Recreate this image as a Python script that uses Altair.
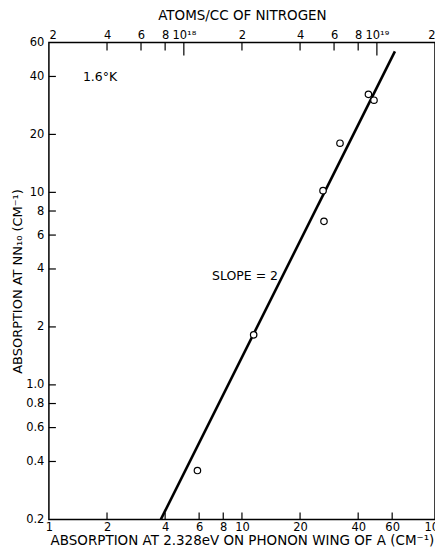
import altair as alt
import pandas as pd

# ---- data ----
x_abs = [5.88, 11.5, 26.3, 26.6, 32.2, 45.2, 48.3]          # absorption at 2.328 eV (cm^-1)
y_nn = [0.359, 1.82, 10.2, 7.07, 18.0, 32.3, 30.1]          # absorption at NN10 (cm^-1)
line_x = [3.8, 62.0]                                          # slope = 2 fit line
line_y = [0.2, 54.0]

bottom_label_vals = [1, 2, 4, 6, 8, 10, 20, 40, 60, 100]
bottom_tick_vals = [2, 4, 6, 8, 10, 20, 40, 60]
left_label_vals = [0.2, 0.4, 0.6, 0.8, 1, 2, 4, 6, 8, 10, 20, 40, 60]
left_tick_vals = [0.4, 0.6, 0.8, 1, 2, 4, 6, 8, 10, 20, 40]
top_label_vals = [2e17, 4e17, 6e17, 8e17, 1e18, 2e18, 4e18, 6e18, 8e18, 1e19, 2e19]
top_labels = ["2", "4", "6", "8", "10¹⁸", "2", "4", "6", "8", "10¹⁹", "2"]
top_minor_vals = [4e17, 6e17, 8e17, 2e18, 4e18, 6e18, 8e18]
top_major_vals = [1e18, 1e19]

notes = ["SLOPE = 2", "1.6°K"]
note_x = [7.0, 1.5]
note_y = [3.68, 39.6]

W, H = 387, 478
FONT = "DejaVu Sans"

xs = alt.Scale(type="log", domain=[1, 100], nice=False)
ys = alt.Scale(type="log", domain=[0.2, 60], nice=False)
ts = alt.Scale(type="log", domain=[2e17, 2e19], nice=False)

x_axis = alt.Axis(values=bottom_label_vals, format="d", ticks=False, domain=False, grid=False,
                  labelPadding=2, labelFlush=False,
                  title="ABSORPTION AT 2.328eV ON PHONON WING OF A  (CM⁻¹)", titlePadding=1)
y_axis = alt.Axis(values=left_label_vals, ticks=False, domain=False, grid=False,
                  labelExpr="datum.value < 1.5 ? format(datum.value, '.1f') : format(datum.value, 'd')",
                  labelPadding=5, labelFlush=False,
                  title="ABSORPTION AT NN₁₀ (CM⁻¹)", titlePadding=1, titleFontSize=13)

expr = "''"
for v, lab in reversed(list(zip(top_label_vals, top_labels))):
    expr = f"abs(datum.value/{v:g} - 1) < 0.001 ? '{lab}' : {expr}"
t_axis = alt.Axis(orient="top", values=top_label_vals, labelExpr=expr, ticks=False, domain=False,
                  grid=False, labelPadding=2, labelFlush=True,
                  title="ATOMS/CC OF NITROGEN", titlePadding=7)


def X(field):
    return alt.X(field, type="quantitative", scale=xs, axis=x_axis)


def Y(field):
    return alt.Y(field, type="quantitative", scale=ys, axis=y_axis)


pts = pd.DataFrame({"x": x_abs, "y": y_nn})
ln = pd.DataFrame({"x": line_x, "y": line_y})
bt = pd.DataFrame({"x": bottom_tick_vals})
lt = pd.DataFrame({"y": left_tick_vals})
nt = pd.DataFrame({"x": note_x, "y": note_y, "t": notes})

line = alt.Chart(ln).mark_line(color="black", strokeWidth=2.6).encode(x=X("x"), y=Y("y"))
points = alt.Chart(pts).mark_point(shape="circle", filled=True, fill="white", stroke="black",
                                   strokeWidth=1.2, size=42, opacity=1).encode(x=X("x"), y=Y("y"))
bticks = alt.Chart(bt).mark_rule(color="black", strokeWidth=1.2).encode(
    x=X("x"), y=alt.value(H), y2=alt.value(H - 7))
lticks = alt.Chart(lt).mark_rule(color="black", strokeWidth=1.2).encode(
    y=Y("y"), x=alt.value(0), x2=alt.value(7))
texts = alt.Chart(nt).mark_text(align="left", baseline="middle", font=FONT, fontSize=12.5,
                                color="black").encode(x=X("x"), y=Y("y"), text="t:N")

main = alt.layer(line, points, bticks, lticks, texts)

tmin = alt.Chart(pd.DataFrame({"a": top_minor_vals})).mark_rule(color="black", strokeWidth=1.2).encode(
    x=alt.X("a:Q", scale=ts, axis=t_axis), y=alt.value(0), y2=alt.value(8))
tmaj = alt.Chart(pd.DataFrame({"a": top_major_vals})).mark_rule(color="black", strokeWidth=1.2).encode(
    x=alt.X("a:Q", scale=ts, axis=t_axis), y=alt.value(0), y2=alt.value(13))
top = alt.layer(tmin, tmaj)

chart = alt.layer(main, top).resolve_scale(x="independent").properties(
    width=W, height=H,
    padding={"left": 41, "top": 34, "right": 0, "bottom": 30},
    autosize=alt.AutoSizeParams(type="none"),
).configure_view(stroke="black", strokeWidth=1.5).configure_axis(
    labelFont=FONT, titleFont=FONT, labelFontSize=11.5, titleFontSize=13.5,
    labelColor="black", titleColor="black", titleFontWeight="normal",
)

chart.save("out.html", embed_options={"renderer": "svg", "actions": False})
